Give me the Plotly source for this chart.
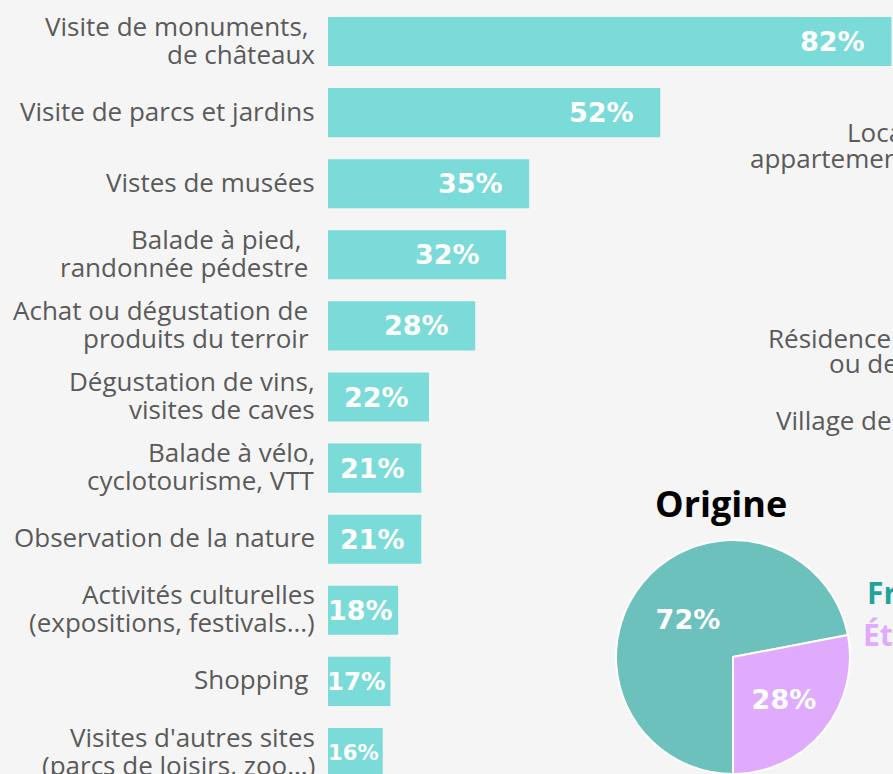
import plotly.graph_objects as go

# ── Data ──────────────────────────────────────────────────────────────────────
activites = [
    "Visite de monuments,\u00a0<br>de châteaux",
    "Visite de parcs et jardins",
    "Vistes de musées",
    "Balade à pied,\u00a0\u00a0<br>randonnée pédestre\u00a0",
    "Achat ou dégustation de\u00a0<br>produits du terroir\u00a0",
    "Dégustation de vins,<br>visites de caves",
    "Balade à vélo,<br>cyclotourisme, VTT",
    "Observation de la nature",
    "Activités culturelles<br>(expositions, festivals...)",
    "Shopping\u00a0",
    "Visites d'autres sites<br>(parcs de loisirs, zoo...)",
]
pourcentages = [82, 52, 35, 32, 28, 22, 21, 21, 18, 17, 16]

origine_labels = ["France", "Étranger"]
origine_values = [72, 28]

# labels of the neighbouring (cropped) panel: text, left x px, centre y px
hebergement_lignes = [
    ("Location de maisons,", 845, 132),
    ("appartements", 748, 158),
    ("Résidence secondaire", 766, 338),
    ("ou de parents, amis", 827, 363),
    ("Village de vacances", 774, 420),
]

# ── Layout constants ──────────────────────────────────────────────────────────
W, H = 893, 774
L = 328                    # left margin (bar base)
PW = W - L                 # plot width in px
X0, X1 = 8.9, 82.2         # visible x range (%)
PX_PER = PW / (X1 - X0)
ROW = 71.1                 # px between bars
Y_FIRST = 41.5             # px centre of first bar
LINE = 28                  # line spacing of the category labels

BG = "#f5f5f5"
BAR = "#7adbd8"
TEAL = "#6cc1bd"
TEAL_DARK = "#1fa59c"
LAV = "#e0abfd"
GREY = "#5a5a5a"
PCT_FONT = dict(family="DejaVu Sans, sans-serif", color="white", weight="bold")
LBL_FONT = dict(family="Open Sans", size=26, color=GREY)


def px(x):
    """pixel x -> paper x (plot area starts at L)"""
    return (x - L) / PW


def py(y):
    """pixel y (from top) -> paper y"""
    return 1 - y / H


fig = go.Figure()

pos = list(range(len(activites)))
fig.add_trace(go.Bar(
    x=pourcentages, y=pos, orientation="h",
    marker=dict(color=BAR, line=dict(width=0)),
    width=0.69, hoverinfo="skip", showlegend=False,
))

# category labels, one annotation per line (tight line spacing)
for i, lab in enumerate(activites):
    lines = lab.split("<br>")
    n = len(lines)
    for k, ln in enumerate(lines):
        fig.add_annotation(
            x=px(317), y=i, xref="paper", yref="y", text=ln,
            xanchor="right", yanchor="middle", showarrow=False,
            yshift=2 - (k - (n - 1) / 2) * LINE, font=LBL_FONT,
        )

# percentage labels inside bars (shrink on short bars)
for i, v in enumerate(pourcentages):
    w = (v - X0) * PX_PER
    size = min(27, (w - 4) / 2.39)
    tw = 2.39 * size
    pad = min(24, (w - tw) / 2)
    fig.add_annotation(
        x=v, y=i, xref="x", yref="y", text=f"{v}%",
        xanchor="right", yanchor="middle", xshift=-pad, showarrow=False,
        font=dict(size=size, **PCT_FONT),
    )

# ── Pie "Origine" ─────────────────────────────────────────────────────────────
fig.add_trace(go.Pie(
    labels=origine_labels, values=origine_values,
    sort=False, direction="clockwise", rotation=180,
    marker=dict(colors=[TEAL, LAV], line=dict(color="white", width=2)),
    texttemplate="%{value}%", textposition="inside",
    insidetextorientation="horizontal",
    textfont=dict(size=27, **PCT_FONT),
    domain=dict(x=[px(616), px(850)], y=[0, py(540)]),
    showlegend=False, hoverinfo="skip",
))

fig.add_annotation(x=px(721), y=py(503), xref="paper", yref="paper",
                   text="<b>Origine</b>", showarrow=False,
                   xanchor="center", yanchor="middle",
                   font=dict(family="Open Sans", size=36, color="black"))
fig.add_annotation(x=px(865), y=py(592), xref="paper", yref="paper",
                   text="<b>France</b>", showarrow=False,
                   xanchor="left", yanchor="middle",
                   font=dict(family="Open Sans", size=30, color=TEAL_DARK))
fig.add_annotation(x=px(861), y=py(634), xref="paper", yref="paper",
                   text="<b>Étranger</b>", showarrow=False,
                   xanchor="left", yanchor="middle",
                   font=dict(family="Open Sans", size=30, color=LAV))

for txt, x, y in hebergement_lignes:
    fig.add_annotation(x=px(x), y=py(y), xref="paper", yref="paper",
                       text=txt, showarrow=False,
                       xanchor="left", yanchor="middle", font=LBL_FONT)

fig.update_layout(
    width=W, height=H,
    margin=dict(l=L, r=0, t=0, b=0),
    paper_bgcolor=BG, plot_bgcolor=BG,
    xaxis=dict(range=[X0, X1], visible=False, fixedrange=True),
    yaxis=dict(
        range=[(H - Y_FIRST) / ROW, -Y_FIRST / ROW],
        visible=False, fixedrange=True,
    ),
)

fig.write_html(
    "out.html",
    config={"displayModeBar": False},
    post_script=f"document.body.style.margin='0';"
                f"document.body.style.background='{BG}';",
)
